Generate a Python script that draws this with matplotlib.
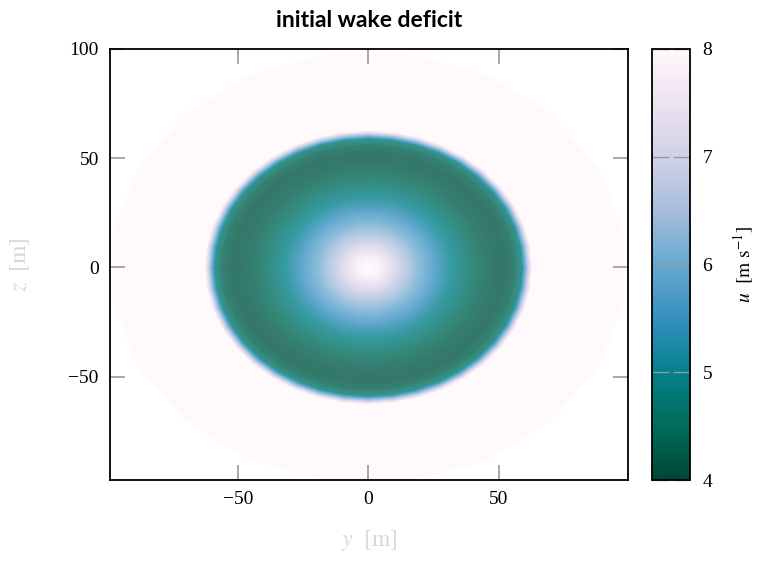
import numpy as np
import matplotlib
matplotlib.use("Agg")
import matplotlib.pyplot as plt
import matplotlib.tri as mtri
from matplotlib.colors import ListedColormap

# radial profile of the initial wake
radius = [0, 4, 8, 12, 16, 20, 24, 28, 32, 36, 40, 44, 48, 52, 56, 59, 63, 70, 80, 90, 99]
u_profile = [8.0, 7.8, 7.3, 6.8, 6.4, 6.0, 5.65, 5.3, 5.0, 4.75, 4.5, 4.35, 4.25,
             4.2, 4.35, 4.8, 8.0, 8.0, 8.0, 8.0, 8.0]
cbar_ticks = [4, 5, 6, 7, 8]
x_ticks = [-50, 0, 50]
y_ticks = [-50, 0, 50, 100]

plt.rcParams['font.family'] = ['Liberation Serif', 'DejaVu Serif']
plt.rcParams['mathtext.fontset'] = 'stix'

# polar mesh: outer ring coarse, inner rings fine
xs, ys, us = [], [], []
for r, u in zip(radius, u_profile):
    if r == 0:
        xs.append(0.0); ys.append(0.0); us.append(u)
        continue
    n = 20 if r == radius[-1] else 40
    off = np.deg2rad(9) if n == 20 else 0.0
    th = off + np.linspace(0, 2 * np.pi, n, endpoint=False)
    xs.extend(r * np.cos(th)); ys.extend(r * np.sin(th)); us.extend([u] * n)
tri = mtri.Triangulation(np.array(xs), np.array(ys))

# the field is drawn faded (like alpha 0.8 on white)
base = plt.get_cmap('PuBuGn_r')(np.linspace(0, 1, 256))
faded = base.copy()
faded[:, :3] = 0.8 * base[:, :3] + 0.2
faded_cmap = ListedColormap(faded)

fig = plt.figure(figsize=(7.58, 5.63), dpi=100)
ax = fig.add_axes([0.1451, 0.1474, 0.6834, 0.7656])
cax = fig.add_axes([0.8602, 0.1474, 0.0501, 0.7656])

cs = ax.tricontourf(tri, np.array(us), levels=np.linspace(3.99, 8.01, 201),
                    cmap=faded_cmap, vmin=4, vmax=8, antialiased=False)
cs.set_rasterized(True)
ax.set_xlim(-99, 99.4)
ax.set_ylim(-97.3, 100)
ax.set_xticks(x_ticks)
ax.set_yticks(y_ticks)
ax.set_xticklabels(['\u221250', '0', '50'])
ax.set_yticklabels(['\u221250', '0', '50', '100'])
ax.tick_params(direction='in', length=11, width=1.2, color='#9a9a9a',
               top=True, right=True, labelsize=14, pad=8)
for s in ax.spines.values():
    s.set_linewidth(1.3)

ax.set_xlabel(r'$y\ \ [\mathrm{m}]$', color='#d8d8d8', fontsize=17, labelpad=14)
ax.set_ylabel(r'$z\ \ [\mathrm{m}]$', color='#d8d8d8', fontsize=17, labelpad=26)
ax.set_title('initial wake deficit', fontsize=16.5, fontweight='bold',
             family='Lato', pad=16)

sm = plt.cm.ScalarMappable(cmap='PuBuGn_r', norm=plt.Normalize(4, 8))
cb = fig.colorbar(sm, cax=cax, ticks=cbar_ticks)
cb.ax.tick_params(direction='in', length=12, width=1.0, color='#9a9a9a',
                  left=True, right=True, labelsize=14, pad=9)
cb.outline.set_linewidth(1.3)
cb.set_label(r'$u\ \ [\mathrm{m\ s^{-1}}]$', fontsize=14, labelpad=14)

fig.savefig('out.png', dpi=100)
